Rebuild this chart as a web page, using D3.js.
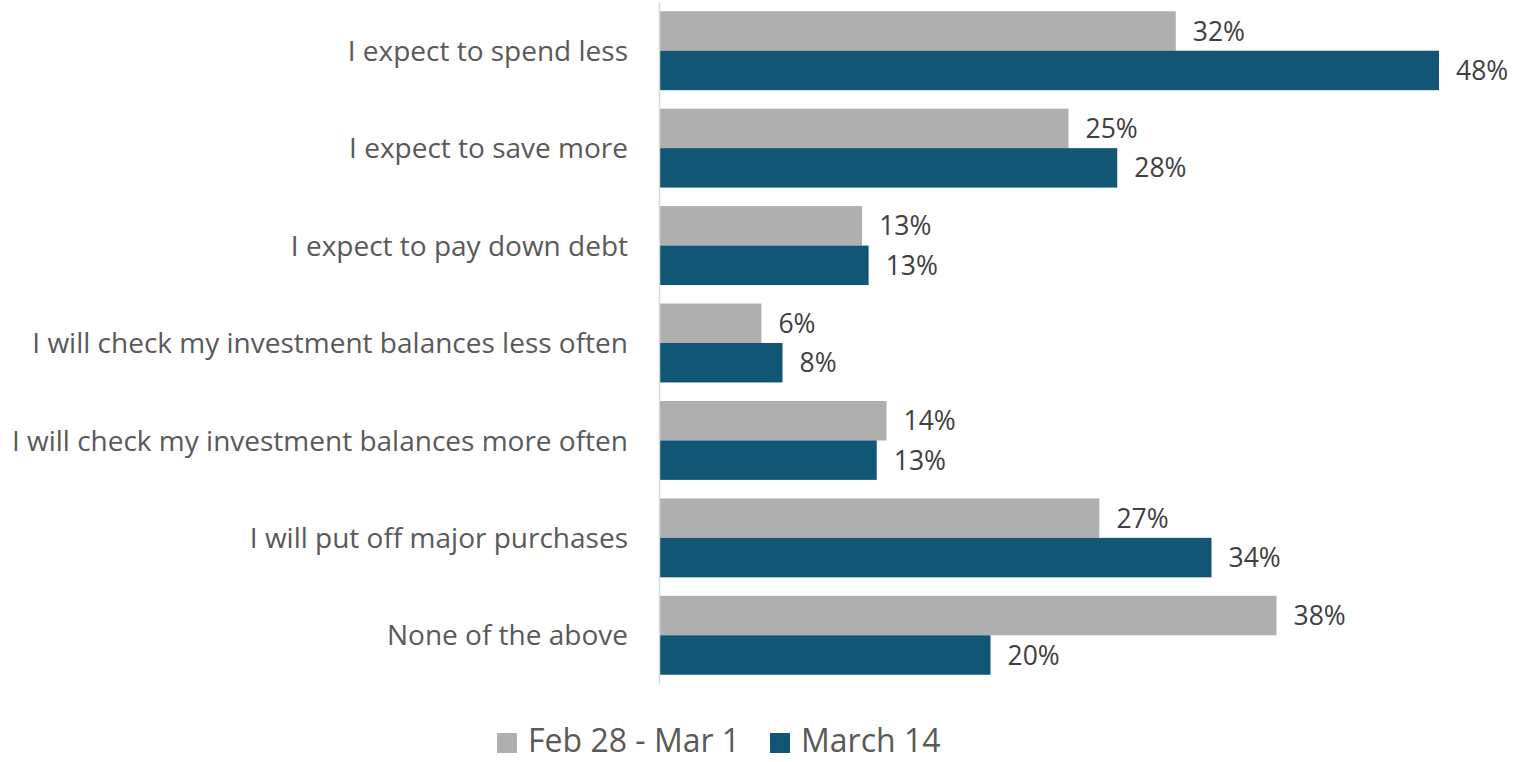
<!DOCTYPE html>
<html>
<head>
<meta charset="utf-8">
<script src="https://cdn.jsdelivr.net/npm/d3@7"></script>
<style>
  body { margin: 0; background: #fff; }
  svg { display: block; font-family: 'Open Sans', sans-serif; }
</style>
</head>
<body>
<div id="chart"></div>
<script>
const categories = [
  'I expect to spend less',
  'I expect to save more',
  'I expect to pay down debt',
  'I will check my investment balances less often',
  'I will check my investment balances more often',
  'I will put off major purchases',
  'None of the above'
];
const seriesNames = ['Feb 28 - Mar 1', 'March 14'];
const febValues = [31.8, 25.2, 12.5, 6.3, 14.0, 27.1, 38.0];
const marchValues = [48.0, 28.2, 12.9, 7.6, 13.4, 34.0, 20.4];
const colors = ['#afafaf', '#115675'];

const width = 1525;
const height = 762;
const left = 659;

const svg = d3.select('#chart')
              .append('svg')
              .attr('width', width)
              .attr('height', height);

const yScale = d3.scaleBand()
                 .domain(categories)
                 .range([2, 684])
                 .paddingInner(0.19)
                 .paddingOuter(0.095);

const subScale = d3.scaleBand()
                   .domain(seriesNames)
                   .range([0, yScale.bandwidth()]);

const xScale = d3.scaleLinear()
                 .domain([0, 50])
                 .range([left, left + 16.25 * 50]);

const series = [febValues, marchValues];

const groups = svg.selectAll('g.series')
                  .data(series)
                  .enter()
                  .append('g')
                  .attr('class', 'series');

groups.selectAll('rect')
      .data((d, s) => d.map((v, i) => ({ v: v, cat: categories[i], s: s })))
      .enter()
      .append('rect')
      .attr('x', xScale(0))
      .attr('y', (d) => yScale(d.cat) + subScale(seriesNames[d.s]))
      .attr('width', (d) => xScale(d.v) - xScale(0))
      .attr('height', subScale.bandwidth())
      .style('fill', (d) => colors[d.s]);

groups.selectAll('text')
      .data((d, s) => d.map((v, i) => ({ v: v, cat: categories[i], s: s })))
      .enter()
      .append('text')
      .attr('x', (d) => xScale(d.v) + 17)
      .attr('y', (d) => yScale(d.cat) + subScale(seriesNames[d.s]) + subScale.bandwidth() / 2)
      .attr('dy', '0.36em')
      .style('font-size', '26.5px')
      .style('fill', '#404040')
      .text((d) => Math.round(d.v) + '%');

const yAxis = d3.axisLeft(yScale)
                .tickSize(0)
                .tickPadding(31);

const axisG = svg.append('g')
                 .attr('transform', 'translate(' + left + ', 0)')
                 .call(yAxis);

axisG.select('.domain')
     .attr('stroke', '#d9d9d9')
     .attr('stroke-width', 1.5);

axisG.selectAll('text')
     .attr('dy', '0.36em')
     .style('font-size', '28px')
     .style('font-family', "'Open Sans', sans-serif")
     .style('fill', '#595959');

// legend (baseline kept high enough that descenders stay inside the page)
const legend = svg.append('g').attr('transform', 'translate(0, 752)');
const legendX = [497, 770];
seriesNames.forEach((name, i) => {
  legend.append('rect')
        .attr('x', legendX[i])
        .attr('y', -19)
        .attr('width', 20)
        .attr('height', 20)
        .style('fill', colors[i]);
  legend.append('text')
        .attr('x', legendX[i] + 31)
        .attr('y', 0)
        .style('font-size', '32px')
        .style('fill', '#595959')
        .text(name);
});
</script>
</body>
</html>
